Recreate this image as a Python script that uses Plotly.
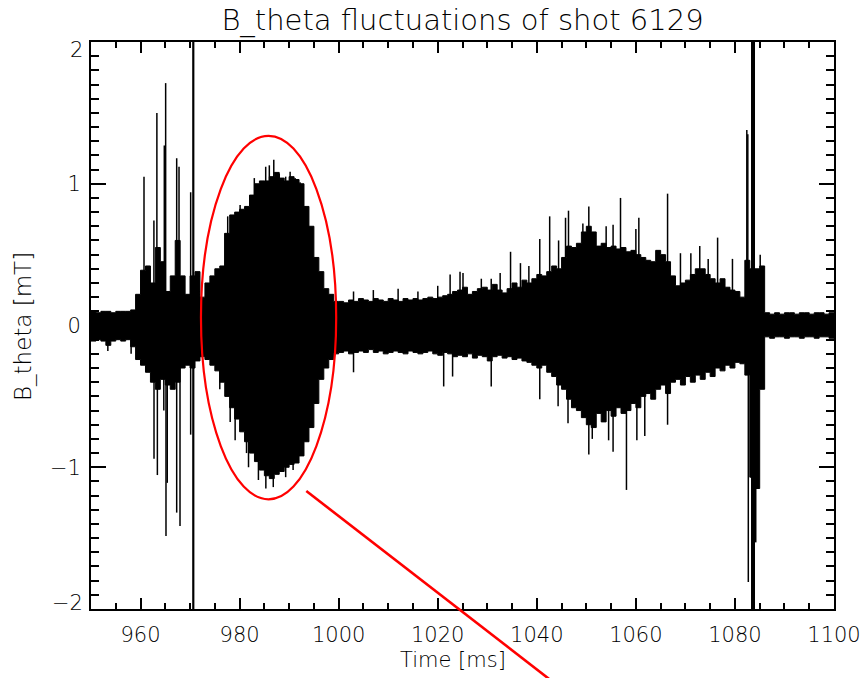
import plotly.graph_objects as go

# ---------------- data ----------------
time_ms = list(range(950, 1101))  # envelope sample times [ms]

upper_mT = (
    [0.10, 0.09, 0.10, 0.10, 0.09, 0.10, 0.10, 0.10, 0.11, 0.22]      # 950-959
    + [0.39, 0.42, 0.30, 0.55, 0.45, 0.24, 0.35, 0.60, 0.35, 0.22]    # 960-969
    + [0.35, 0.38, 0.20, 0.30, 0.35, 0.40, 0.42, 0.65, 0.78, 0.80]    # 970-979
    + [0.82, 0.84, 0.92, 1.00, 1.02, 1.02, 1.05, 1.08, 1.04, 1.02]    # 980-989
    + [1.05, 1.03, 1.00, 0.84, 0.70, 0.48, 0.38, 0.26, 0.22, 0.17]    # 990-999
    + [0.17, 0.16, 0.18, 0.17, 0.19, 0.18, 0.17, 0.19, 0.18, 0.17]    # 1000-1009
    + [0.19, 0.18, 0.17, 0.19, 0.18, 0.19, 0.18, 0.19, 0.20, 0.19]    # 1010-1019
    + [0.20, 0.21, 0.22, 0.24, 0.25, 0.27, 0.22, 0.24, 0.26, 0.27]    # 1020-1029
    + [0.25, 0.29, 0.25, 0.23, 0.26, 0.30, 0.27, 0.32, 0.30, 0.33]    # 1030-1039
    + [0.36, 0.35, 0.38, 0.42, 0.40, 0.48, 0.56, 0.55, 0.58, 0.66]    # 1040-1049
    + [0.70, 0.66, 0.56, 0.58, 0.55, 0.56, 0.54, 0.55, 0.52, 0.53]    # 1050-1059
    + [0.50, 0.48, 0.46, 0.45, 0.53, 0.50, 0.45, 0.35, 0.28, 0.30]    # 1060-1069
    + [0.32, 0.36, 0.40, 0.40, 0.36, 0.33, 0.30, 0.33, 0.27, 0.25]    # 1070-1079
    + [0.24, 0.20, 0.46, 0.40, 0.40, 0.42, 0.09, 0.08, 0.09, 0.08]    # 1080-1089
    + [0.09, 0.09, 0.08, 0.09, 0.09, 0.08, 0.09, 0.09, 0.08, 0.09]    # 1090-1099
    + [0.09]                                                          # 1100
)

lower_mT = (
    [-0.11, -0.10, -0.11, -0.14, -0.11, -0.10, -0.11, -0.10, -0.15, -0.24]    # 950-959
    + [-0.28, -0.33, -0.40, -0.45, -0.38, -0.42, -0.45, -0.40, -0.30, -0.28]  # 960-969
    + [-0.30, -0.25, -0.22, -0.24, -0.28, -0.32, -0.40, -0.50, -0.58, -0.66]  # 970-979
    + [-0.75, -0.82, -0.90, -0.96, -1.02, -1.06, -1.08, -1.05, -1.03, -1.00]  # 980-989
    + [-0.98, -0.97, -0.92, -0.82, -0.72, -0.55, -0.38, -0.30, -0.24, -0.20]  # 990-999
    + [-0.19, -0.18, -0.20, -0.19, -0.18, -0.19, -0.17, -0.19, -0.18, -0.20]  # 1000-1009
    + [-0.19, -0.18, -0.19, -0.20, -0.18, -0.19, -0.20, -0.19, -0.18, -0.20]  # 1010-1019
    + [-0.21, -0.19, -0.20, -0.22, -0.21, -0.22, -0.20, -0.23, -0.21, -0.22]  # 1020-1029
    + [-0.25, -0.22, -0.21, -0.23, -0.22, -0.24, -0.23, -0.25, -0.26, -0.28]  # 1030-1039
    + [-0.30, -0.28, -0.33, -0.36, -0.42, -0.45, -0.52, -0.58, -0.60, -0.65]  # 1040-1049
    + [-0.70, -0.72, -0.62, -0.68, -0.60, -0.64, -0.58, -0.62, -0.60, -0.55]  # 1050-1059
    + [-0.58, -0.50, -0.48, -0.52, -0.45, -0.42, -0.48, -0.40, -0.38, -0.42]  # 1060-1069
    + [-0.36, -0.40, -0.35, -0.38, -0.33, -0.36, -0.30, -0.32, -0.28, -0.30]  # 1070-1079
    + [-0.26, -0.27, -0.35, -1.07, -1.15, -0.45, -0.08, -0.09, -0.08, -0.08]  # 1080-1089
    + [-0.09, -0.08, -0.08, -0.09, -0.08, -0.08, -0.09, -0.08, -0.08, -0.09]  # 1090-1099
    + [-0.08]                                                                 # 1100
)

# isolated positive spikes / needles on the upper edge
spike_up_t = [960.7, 962.7, 963.3, 964.8, 965.07, 967.3, 967.77, 970.12,
              977.05, 977.6, 980.1, 981.3, 982.97, 985.27, 986.0, 986.9, 988.0, 989.3, 990.2,
              991.2, 992.2, 993.2,
              1003.0, 1007.0, 1012.0, 1016.0, 1020.0, 1022.5, 1024.5, 1025.1, 1028.8,
              1030.8, 1032.6, 1034.7, 1036.7, 1038.4, 1040.6, 1042.6, 1044.4, 1045.8, 1046.4,
              1049.3, 1050.5, 1054.0, 1055.4, 1056.9, 1060.0, 1060.6, 1066.4, 1069.0, 1071.1,
              1072.9, 1074.6, 1076.5, 1079.5, 1082.4, 1082.6, 1085.1]
spike_up_v = [1.05, 0.74, 1.50, 1.27, 1.71, 1.18, 1.12, 0.94,
              0.65, 0.77, 0.85, 0.84, 1.04, 1.12, 1.13, 1.17, 1.07, 1.05, 1.085,
              1.04, 1.01, 0.84,
              0.24, 0.25, 0.26, 0.24, 0.28, 0.36, 0.38, 0.37, 0.33,
              0.33, 0.37, 0.52, 0.44, 0.42, 0.61, 0.77, 0.60, 0.76, 0.81,
              0.72, 0.84, 0.70, 0.71, 0.90, 0.68, 0.76, 0.93, 0.51, 0.51,
              0.56, 0.47, 0.62, 0.47, 1.38, 1.35, 0.50]

# isolated negative spikes / needles on the lower edge
spike_dn_t = [953.4, 958.1, 962.72, 963.4, 964.7, 965.14, 965.4, 967.3, 967.97, 970.12,
              976.0, 978.1, 979.1, 981.4, 981.8, 983.8, 985.3, 986.8, 989.3, 990.8, 994.6, 995.6,
              1003.0, 1021.2, 1023.0, 1030.8, 1040.6, 1044.3, 1046.3, 1050.5,
              1051.2, 1054.5, 1055.4, 1058.1, 1060.2, 1061.8, 1066.4, 1082.7, 1084.2, 1084.5]
spike_dn_v = [-0.18, -0.20, -0.94, -1.055, -0.60, -1.485, -1.11, -1.32, -1.415, -0.77,
              -0.45, -0.68, -0.81, -0.90, -1.00, -1.09, -1.15, -1.14, -1.07, -1.02, -0.69, -0.43,
              -0.33, -0.43, -0.36, -0.43, -0.52, -0.57, -0.69, -0.91,
              -0.80, -0.81, -0.89, -1.16, -0.81, -0.78, -0.70, -1.81, -1.53, -1.15]

# off-scale excursions (exceed the +/-2 mT axis range)
full_t = [970.65, 1083.65]
full_lo = [-2.6, -2.6]
full_hi = [2.6, 2.6]
full_width = [2.2, 4.0]

x_ticks = [960, 980, 1000, 1020, 1040, 1060, 1080, 1100]
y_ticks = [-2, -1, 0, 1, 2]
y_ticktext = ["", "\u22121", "0", "1", ""]

# highlighted region (red ellipse) in data units
ell_t0, ell_t1 = 972.2, 999.5
ell_b0, ell_b1 = -1.226, 1.338

# ---------------- figure ----------------
FONT = "DejaVu Sans"
fig = go.Figure()

fig.add_trace(go.Scatter(x=time_ms, y=lower_mT, mode="lines", line=dict(color="black", width=1, shape="hv"),
                         showlegend=False, hoverinfo="skip"))
fig.add_trace(go.Scatter(x=time_ms, y=upper_mT, mode="lines", line=dict(color="black", width=1, shape="hv"),
                         fill="tonexty", fillcolor="black", showlegend=False, hoverinfo="skip"))

sx, sy = [], []
for t, v in zip(spike_up_t, spike_up_v):
    sx += [t, t, None]
    sy += [0, v, None]
for t, v in zip(spike_dn_t, spike_dn_v):
    sx += [t, t, None]
    sy += [0, v, None]
fig.add_trace(go.Scatter(x=sx, y=sy, mode="lines", line=dict(color="black", width=1.5),
                         showlegend=False, hoverinfo="skip"))

for t, lo, hi, w in zip(full_t, full_lo, full_hi, full_width):
    fig.add_trace(go.Scatter(x=[t, t], y=[lo, hi], mode="lines", line=dict(color="black", width=w),
                             showlegend=False, hoverinfo="skip"))

L, R, T, B = 91, 29, 42, 69
W, H = 863, 678
pw, ph = W - L - R, H - T - B

def px_to_paper(px, py):
    return (px - L) / pw, (H - B - py) / ph

fig.add_shape(type="circle", xref="x", yref="y", x0=ell_t0, x1=ell_t1, y0=ell_b0, y1=ell_b1,
              line=dict(color="#ff0000", width=2.2))
lx0, ly0 = px_to_paper(306.3, 491.0)
lx1, ly1 = px_to_paper(560.0, 687.4)
fig.add_shape(type="line", xref="paper", yref="paper", x0=lx0, y0=ly0, x1=lx1, y1=ly1,
              line=dict(color="#ff0000", width=2.6))

axis_common = dict(showgrid=False, zeroline=False, showline=True, linecolor="black", linewidth=1.8,
                   mirror="allticks", ticks="inside", tickcolor="black", tickwidth=1.5, automargin=False,
                   tickfont=dict(family=FONT, size=21, color="black", weight=300))

fig.update_xaxes(range=[950, 1100], tickvals=x_ticks, ticklen=11,
                 minor=dict(dtick=5, tick0=950, ticks="inside", ticklen=6, tickwidth=1.5, tickcolor="black"),
                 ticklabelstandoff=6, **axis_common)
fig.update_yaxes(range=[-2, 2], tickvals=y_ticks, ticktext=y_ticktext, ticklen=15,
                 minor=dict(dtick=0.1, tick0=0, ticks="inside", ticklen=8, tickwidth=1.5, tickcolor="black"),
                 ticklabelstandoff=4, **axis_common)

ann_font = dict(family=FONT, size=21, color="black", weight=300)
annotations = [
    dict(text="2", xref="paper", yref="y", x=0, y=2, xanchor="right", yanchor="middle",
         xshift=-6, yshift=-8, showarrow=False, font=ann_font),
    dict(text="\u22122", xref="paper", yref="y", x=0, y=-2, xanchor="right", yanchor="middle",
         xshift=-6, yshift=6, showarrow=False, font=ann_font),
    dict(text="Time [ms]", xref="paper", yref="paper", x=(453 - L) / pw, y=(H - B - 660) / ph,
         xanchor="center", yanchor="middle", showarrow=False, font=ann_font),
    dict(text="B_theta [mT]", xref="paper", yref="paper", x=(23 - L) / pw, y=(H - B - 327) / ph,
         xanchor="center", yanchor="middle", textangle=-90, showarrow=False,
         font=dict(family=FONT, size=23, color="black", weight=300)),
]

fig.update_layout(
    width=W, height=H, autosize=False,
    margin=dict(l=L, r=R, t=T, b=B, pad=0),
    paper_bgcolor="white", plot_bgcolor="white",
    title=dict(text="B_theta fluctuations of shot 6129", x=0.5, xref="paper",
               y=1 - 20 / H, yref="container", xanchor="center", yanchor="middle",
               font=dict(family=FONT, size=29, color="black", weight=300)),
    annotations=annotations,
    showlegend=False,
)

fig.write_html("out.html", config={"displayModeBar": False},
               post_script="document.body.style.margin='0';document.body.style.overflow='hidden';")
